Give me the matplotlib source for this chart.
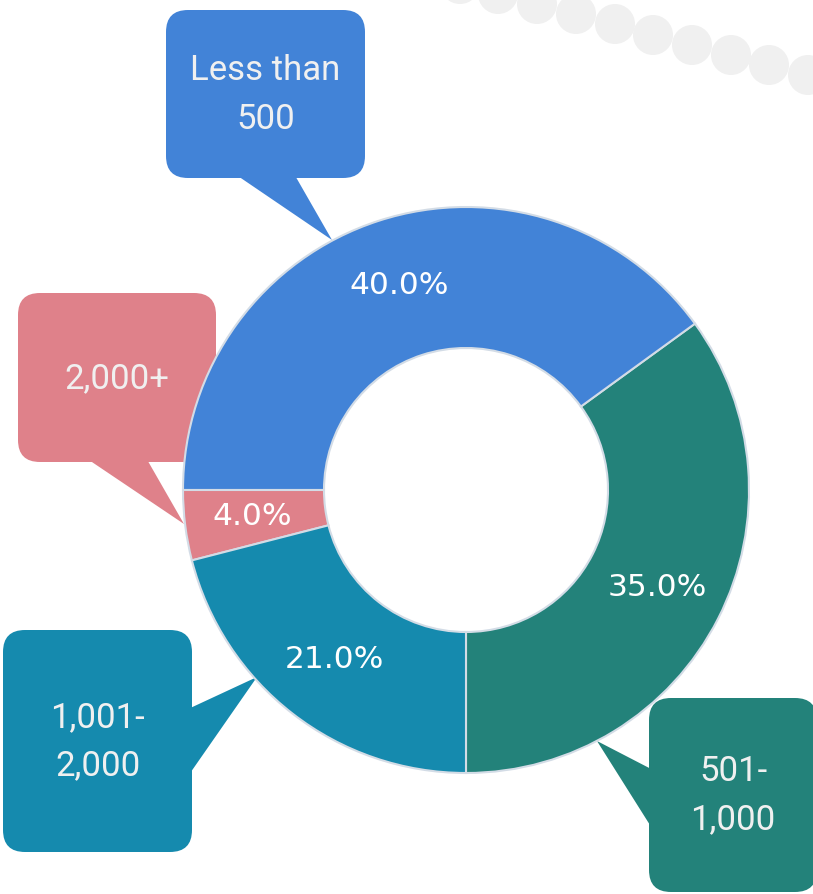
import matplotlib.pyplot as plt
from matplotlib.patches import FancyBboxPatch, Polygon, Circle

labels = ['501-\n1,000', 'Less than\n500', '2,000+', '1,001-\n2,000']
values = [35, 40, 4, 21]
colors = ['#23827A', '#4283D7', '#DF818A', '#158AAE']

# callout layout in pixel coords (x0, y0, x1, y1) and tail triangles
boxes = [(649, 698, 817, 892), (166, 10, 365, 178), (18, 293, 216, 462), (3, 630, 192, 852)]
tails = [
    [(655, 771), (655, 833), (597, 741)],
    [(232, 172), (293, 172), (332, 240)],
    [(83, 456), (145, 456), (184, 524)],
    [(186, 710), (186, 779), (257, 677)],
]
dots = [(460, -16), (498, -6), (537, 4), (576, 14), (615, 24), (653, 35),
        (692, 45), (731, 55), (769, 65), (808, 75)]

fig = plt.figure(figsize=(8.13, 8.94), dpi=100)
ax = fig.add_axes([0, 0, 1, 1])

for cx, cy in dots:
    ax.add_patch(Circle((cx, cy), 20, color='#f0f0f0', lw=0, zorder=0))

wedges, texts, autotexts = ax.pie(
    values, colors=colors, center=(466, 490), radius=283,
    startangle=90, counterclock=False,
    autopct='%1.1f%%', pctdistance=0.76,
    wedgeprops=dict(width=141, edgecolor='#d3dce6', linewidth=1.5),
    textprops=dict(color='white', fontsize=22.5, family='DejaVu Sans'))
for w in wedges:
    w.set_zorder(2)
for t in autotexts:
    t.set_zorder(3)

for lab, col, (x0, y0, x1, y1), tri in zip(labels, colors, boxes, tails):
    ax.add_patch(Polygon(tri, closed=True, color=col, lw=0, zorder=1))
    ax.add_patch(FancyBboxPatch((x0, y0), x1 - x0, y1 - y0,
                                boxstyle='round,pad=0,rounding_size=22',
                                color=col, lw=0, zorder=1))
    ax.text((x0 + x1) / 2, (y0 + y1) / 2 + 1, lab, ha='center', va='center',
            color='#f0f0f0', fontsize=25, family='Roboto', linespacing=1.58, zorder=4)

ax.set_xlim(0, 813)
ax.set_ylim(894, 0)
ax.set_aspect('equal')
ax.axis('off')

fig.savefig('out.png', dpi=100)
